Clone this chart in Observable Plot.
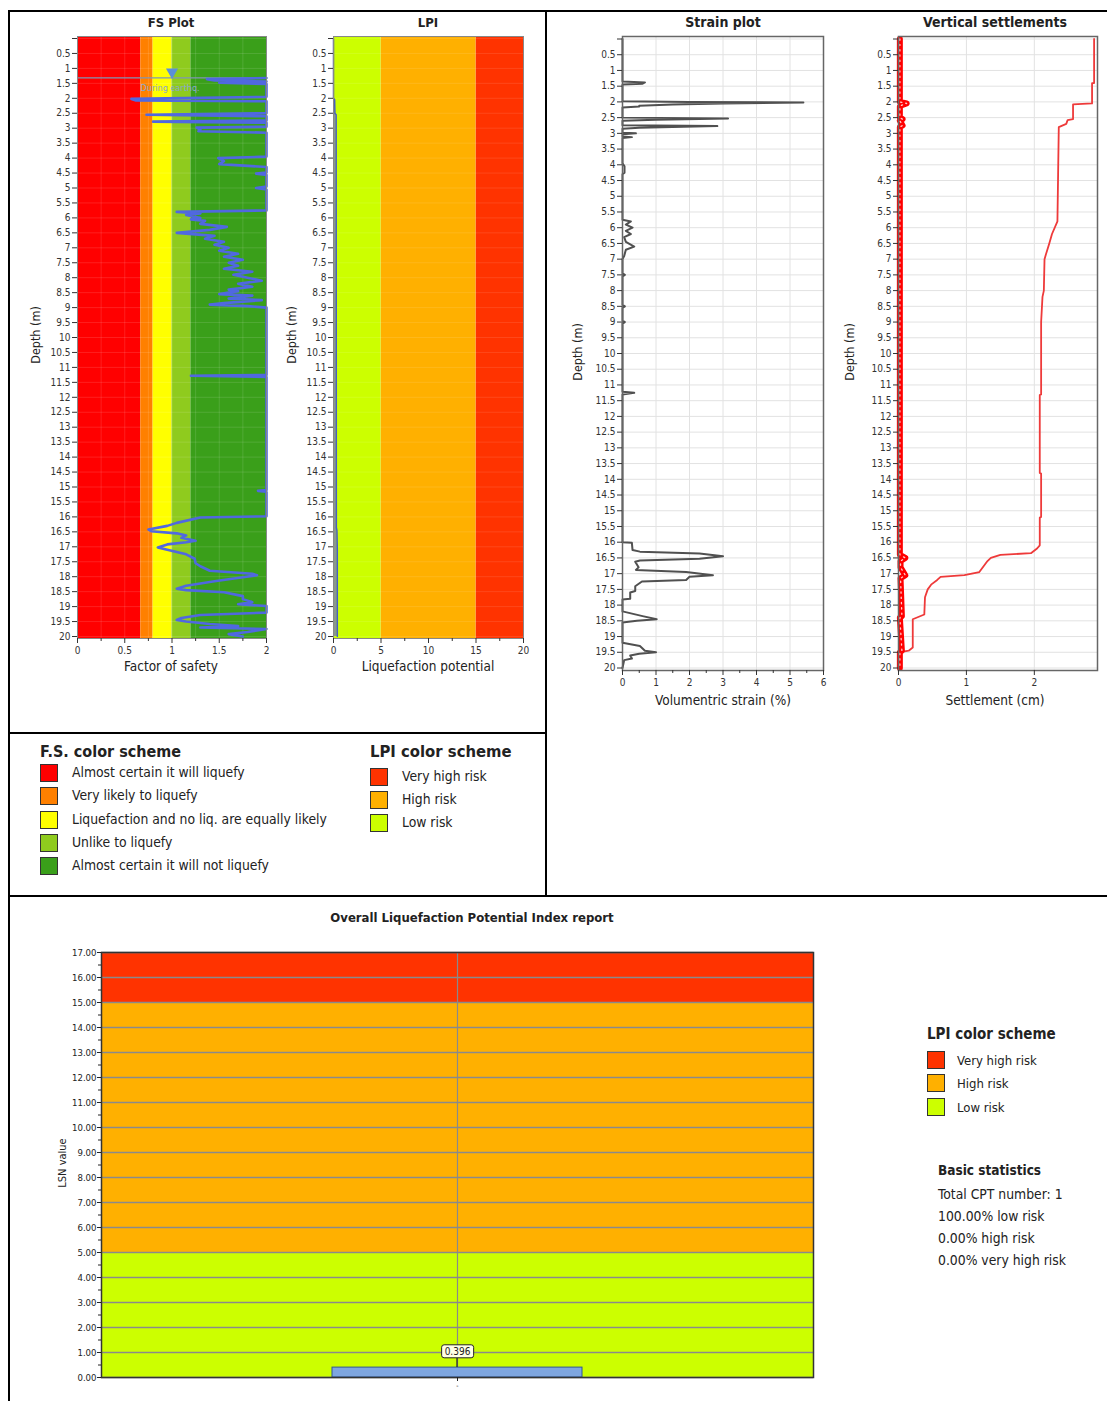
<!DOCTYPE html>
<html><head><meta charset="utf-8">
<script src="https://cdn.jsdelivr.net/npm/d3@7"></script>
<script src="https://cdn.jsdelivr.net/npm/@observablehq/plot@0.6"></script>
<style>
body{margin:0;background:#fff;}
#root{position:relative;width:1107px;height:1401px;overflow:hidden;background:#fff;font-family:'DejaVu Sans Condensed','DejaVu Sans',sans-serif;color:#222;}
.abs{position:absolute;white-space:nowrap;line-height:1;}
.bar{position:absolute;background:#000;}
.sw{position:absolute;width:16px;height:16px;border:1px solid #333;}
</style></head>
<body><div id="root"></div>
<script>
// ---------- data ----------
const depthTicks = [0,0.5,1,1.5,2,2.5,3,3.5,4,4.5,5,5.5,6,6.5,7,7.5,8,8.5,9,9.5,10,10.5,11,11.5,12,12.5,13,13.5,14,14.5,15,15.5,16,16.5,17,17.5,18,18.5,19,19.5,20];

// FS colour scheme
const fsNames = ["Almost certain it will liquefy","Very likely to liquefy","Liquefaction and no liq. are equally likely","Unlike to liquefy","Almost certain it will not liquefy"];
const fsColors = ["#FF0000","#FF8000","#FFFF00","#8FCB1E","#3A9F1A"];
const fsFrom = [0,0.67,0.8,1.0,1.2];
const fsTo = [0.67,0.8,1.0,1.2,2.0];
const fsTicks = [0,0.5,1,1.5,2];
const fsMinor = [0.25,0.75,1.25,1.75];
const waterDepth = 1.32;
const waterLabel = "During earthq.";

const fsDepth = [1.32,1.36,1.40,1.44,1.48,1.52,1.95,2.02,2.07,2.10,2.50,2.55,2.60,2.74,2.78,2.82,2.95,2.98,3.05,3.10,3.15,3.95,4.00,4.10,4.20,4.30,4.48,4.52,4.56,4.95,5.00,5.05,5.75,5.80,5.85,5.90,6.00,6.05,6.10,6.20,6.30,6.40,6.50,6.55,6.60,6.70,6.80,6.90,7.00,7.10,7.20,7.30,7.40,7.50,7.60,7.70,7.80,7.90,8.00,8.10,8.20,8.30,8.40,8.45,8.55,8.60,8.70,8.75,8.85,8.90,8.95,9.00,11.25,11.28,11.32,15.10,15.13,15.16,15.98,16.02,16.20,16.30,16.42,16.48,16.55,16.62,16.70,16.80,16.85,16.92,17.02,17.10,17.25,17.40,17.55,17.65,17.80,17.90,17.95,18.02,18.15,18.30,18.40,18.45,18.52,18.65,18.75,18.85,18.92,18.98,19.20,19.28,19.38,19.45,19.50,19.58,19.65,19.70,19.75,19.85,19.92,20.00];
const fsValue = [2,1.37,1.45,2,1.50,2,2,0.57,0.62,2,2,0.73,2,2,0.80,2,2,1.26,1.30,1.28,2,2,1.49,1.55,1.50,2,2,1.89,2,2,1.89,2,2,1.05,1.30,1.15,1.30,1.20,1.35,1.30,1.58,1.40,1.05,1.25,1.45,1.35,1.55,1.45,1.60,1.50,1.70,1.55,1.75,1.60,1.70,1.55,1.85,1.65,1.80,1.95,1.70,1.85,1.60,1.70,1.50,1.85,1.60,1.95,1.55,1.40,1.80,2,2,1.20,2,2,1.91,2,2,1.30,1.05,0.95,0.75,0.78,1.05,1.15,1.10,1.25,1.15,0.95,0.85,0.95,1.15,1.24,1.25,1.30,1.40,1.85,1.90,1.75,1.45,1.15,1.05,1.15,1.55,1.75,1.75,1.85,1.70,2,2,1.30,1.10,1.05,1.15,1.40,1.70,1.30,2,1.80,1.60,1.75];

// LPI colour scheme
const lpiNames = ["Very high risk","High risk","Low risk"];
const lpiColors = ["#FF3300","#FFB000","#CCFF00"];
const lpiFrom = [15,5,0];
const lpiTo = [20,15,5];
const lpiTicks = [0,5,10,15,20];
const lpiMinor = [2.5,7.5,12.5,17.5];
const lpiDepth = [0,2.0,2.05,2.5,2.55,16.35,16.45,17.1,20];
const lpiValue = [0,0,0.12,0.15,0.28,0.30,0.36,0.40,0.40];

// Strain
const strainTicks = [0,1,2,3,4,5,6];
const strainMinor = [0.5,1.5,2.5,3.5,4.5,5.5];
const strainDepth = [0,1.35,1.38,1.42,1.45,1.98,2.00,2.02,2.05,2.08,2.12,2.15,2.18,2.50,2.53,2.57,2.60,2.74,2.77,2.82,2.85,2.98,3.00,3.03,3.10,3.12,3.15,3.95,4.05,4.25,4.30,5.75,5.80,5.90,6.00,6.10,6.20,6.30,6.45,6.60,6.70,6.90,7.00,7.45,7.50,7.55,8.45,8.50,8.55,8.95,9.00,9.05,11.22,11.25,11.30,16.00,16.02,16.25,16.30,16.36,16.45,16.53,16.58,16.62,16.80,16.88,16.95,17.05,17.10,17.20,17.25,17.40,17.55,17.60,17.80,17.82,18.20,18.35,18.45,18.50,18.55,19.20,19.30,19.45,19.50,19.55,19.60,19.70,19.75,20.00];
const strainValue = [0,0,0.67,0.6,0,0,2.0,5.4,3.0,1.5,0.5,0.5,0,0,3.15,1.0,0,0,2.83,0.5,0,0,0.4,0,0,0.28,0,0,0.06,0.06,0,0,0.25,0.1,0.3,0.1,0.25,0.05,0.1,0.35,0.1,0.05,0,0,0.07,0,0,0.07,0,0,0.07,0,0,0.35,0,0,0.28,0.3,0.52,2.3,3.0,2.3,0.52,0.38,0.48,0.40,1.9,2.7,2.0,1.9,0.58,0.38,0.38,0.23,0.23,0,0,0.6,1.02,0.43,0,0,0.52,0.67,1.0,0.5,0.23,0.28,0.05,0];

// Settlement
const settleTicks = [0,1,2];
const settleMax = 2.93;
const settleDepth = [0,1.40,1.40,2.05,2.08,2.55,2.58,2.70,2.80,4.30,5.80,6.20,6.50,6.85,7.00,8.00,8.20,9.00,11.30,11.32,13.80,13.82,15.20,15.22,16.10,16.20,16.35,16.40,16.50,16.60,16.95,17.05,17.10,17.20,17.35,17.50,17.75,18.30,18.45,19.35,19.45,19.50,20.00];
const settleValue = [2.88,2.88,2.85,2.85,2.57,2.57,2.49,2.47,2.36,2.35,2.34,2.26,2.22,2.17,2.15,2.14,2.12,2.10,2.10,2.08,2.08,2.10,2.10,2.08,2.08,2.04,1.95,1.50,1.36,1.31,1.19,0.97,0.62,0.57,0.48,0.43,0.39,0.38,0.21,0.21,0.15,0.01,0];
const layerDepth = [0,2.0,2.05,2.1,2.15,2.5,2.55,2.6,2.75,2.8,16.4,16.5,16.6,16.8,17.05,17.15,18.35,18.4,19.45,19.5,20];
const layerValue = [0.02,0.02,0.12,0.05,0.02,0.02,0.06,0.02,0.06,0.02,0.02,0.1,0.03,0.03,0.1,0.03,0.05,0.02,0.05,0.02,0.02];

// Overall LSN report
const lsnCategories = ["-"];
const lsnValues = [0.396];
const lsnTicks = [0,1,2,3,4,5,6,7,8,9,10,11,12,13,14,15,16,17];
const lsnMinor = [0.5,1.5,2.5,3.5,4.5,5.5,6.5,7.5,8.5,9.5,10.5,11.5,12.5,13.5,14.5,15.5,16.5];
const lsnFrom = [15,5,0];
const lsnTo = [17,15,5];
const statsLines = ["Total CPT number: 1","100.00% low risk","0.00% high risk","0.00% very high risk"];

// ---------- tables ----------
const zip = (a,b,ka,kb) => a.map((d,i)=>({[ka]:d,[kb]:b[i]}));
const fsBands = fsFrom.map((d,i)=>({from:d,to:fsTo[i],color:fsColors[i]}));
const lpiBands = lpiFrom.map((d,i)=>({from:d,to:lpiTo[i],color:lpiColors[i]}));
const lsnBands = lsnFrom.map((d,i)=>({from:d,to:lsnTo[i],color:lpiColors[i]}));
const fsData = zip(fsDepth,fsValue,"depth","v");
const lpiData = zip(lpiDepth,lpiValue,"depth","v");
const strainData = zip(strainDepth,strainValue,"depth","v");
const settleData = zip(settleDepth,settleValue,"depth","v");
const layerData = zip(layerDepth,layerValue,"depth","v");
const lsnData = lsnCategories.map((c,i)=>({cat:c,v:lsnValues[i]}));

const FF = "'DejaVu Sans Condensed','DejaVu Sans',sans-serif";
const root = document.getElementById("root");
const baseStyle = {fontFamily: FF, fontSize: "10px", color: "#333", background: "transparent", overflow: "visible"};
const depthFmt = d => d === 0 ? "" : String(d);

function place(el, left, top){ el.style.position="absolute"; el.style.left=left+"px"; el.style.top=top+"px"; root.appendChild(el); return el; }
function txt(s, x, y, o={}){
  const d = document.createElement("div"); d.className="abs"; d.textContent=s;
  d.style.left=x+"px"; d.style.top=y+"px";
  d.style.fontSize=(o.size||12)+"px"; if(o.bold) d.style.fontWeight="bold";
  if(o.color) d.style.color=o.color;
  let tr = o.anchor==="start" ? "translate(0,-50%)" : "translate(-50%,-50%)";
  if(o.rotate) tr += " rotate(-90deg)";
  d.style.transform=tr; root.appendChild(d); return d;
}
function line(x,y,w,h){ const d=document.createElement("div"); d.className="bar"; Object.assign(d.style,{left:x+"px",top:y+"px",width:w+"px",height:h+"px"}); root.appendChild(d); }
function swatch(x,y,c){ const d=document.createElement("div"); d.className="sw"; Object.assign(d.style,{left:x+"px",top:y+"px",background:c}); root.appendChild(d); }

// ---------- FS plot ----------
place(Plot.plot({
  width: 280, height: 680, marginLeft: 77, marginRight: 14, marginTop: 36, marginBottom: 42,
  insetTop: 2, insetBottom: 2,
  x: {domain: [0,2], label: null}, y: {domain: [0,20], reverse: true, label: null}, color: {type: "identity"},
  style: baseStyle,
  marks: [
    Plot.rect(fsBands, {x1: "from", x2: "to", fill: "color"}),
    Plot.ruleY(depthTicks, {stroke: "#fff", strokeOpacity: 0.12}),
    Plot.ruleX(fsMinor.concat(fsTicks), {stroke: "#fff", strokeOpacity: 0.12}),
    Plot.ruleY([waterDepth], {stroke: "#8096b4", strokeWidth: 1.2}),
    Plot.line(fsData, {x: "v", y: "depth", stroke: "#5068E0", strokeWidth: 2.6}),
    Plot.dot([{v:1, depth: waterDepth}], {x: "v", y: "depth", symbol: "triangle", r: 4.5, rotate: 180, fill: "#5A8FD8", dy: -6}),
    Plot.text([{v:0.98, depth: waterDepth, t: waterLabel}], {x: "v", y: "depth", text: "t", dy: 10, fill: "#8aa6cc", fontSize: 9}),
    Plot.frame({stroke: "#888"}),
    Plot.axisY({ticks: depthTicks, tickFormat: depthFmt, tickSize: 5, tickPadding: 2, label: null}),
    Plot.axisX({ticks: fsTicks, tickFormat: d => String(d), tickSize: 5, tickPadding: 3, label: null}),
    Plot.axisX({ticks: fsMinor, tickFormat: () => "", tickSize: 3, label: null})
  ]
}), 0, 0);

// ---------- LPI plot ----------
place(Plot.plot({
  width: 260, height: 680, marginLeft: 53, marginRight: 17, marginTop: 36, marginBottom: 42,
  insetTop: 2, insetBottom: 2,
  x: {domain: [0,20], label: null}, y: {domain: [0,20], reverse: true, label: null}, color: {type: "identity"},
  style: baseStyle,
  marks: [
    Plot.rect(lpiBands, {x1: "from", x2: "to", fill: "color"}),
    Plot.ruleY(depthTicks, {stroke: "#fff", strokeOpacity: 0.1}),
    Plot.areaX(lpiData, {x: "v", y: "depth", fill: "#8a9a8a"}),
    Plot.line(lpiData, {x: "v", y: "depth", stroke: "#4A5FC1", strokeWidth: 1.5}),
    Plot.frame({stroke: "#888"}),
    Plot.axisY({ticks: depthTicks, tickFormat: depthFmt, tickSize: 5, tickPadding: 2, label: null}),
    Plot.axisX({ticks: lpiTicks, tickFormat: d => String(d), tickSize: 5, tickPadding: 3, label: null}),
    Plot.axisX({ticks: lpiMinor, tickFormat: () => "", tickSize: 3, label: null})
  ]
}), 280, 0);

// ---------- Strain plot ----------
place(Plot.plot({
  width: 290, height: 720, marginLeft: 74, marginRight: 15, marginTop: 36, marginBottom: 50,
  insetTop: 2.5, insetBottom: 2.5,
  x: {domain: [0,6], label: null}, y: {domain: [0,20], reverse: true, label: null},
  style: baseStyle,
  marks: [
    Plot.ruleY(depthTicks, {stroke: "#e2e2e2"}),
    Plot.ruleX(strainTicks, {stroke: "#e2e2e2"}),
    Plot.line(strainData, {x: "v", y: "depth", stroke: "#505050", strokeWidth: 2}),
    Plot.frame({stroke: "#666", strokeWidth: 1.5}),
    Plot.axisY({ticks: depthTicks, tickFormat: depthFmt, tickSize: 5, tickPadding: 2, label: null}),
    Plot.axisX({ticks: strainTicks, tickFormat: d => String(d), tickSize: 5, tickPadding: 3, label: null}),
    Plot.axisX({ticks: strainMinor, tickFormat: () => "", tickSize: 3, label: null})
  ]
}), 548, 0);

// ---------- Settlement plot ----------
place(Plot.plot({
  width: 269, height: 720, marginLeft: 60, marginRight: 10, marginTop: 36, marginBottom: 50,
  insetTop: 2.5, insetBottom: 2.5,
  x: {domain: [0, settleMax], label: null}, y: {domain: [0,20], reverse: true, label: null},
  style: baseStyle,
  marks: [
    Plot.ruleY(depthTicks, {stroke: "#e2e2e2"}),
    Plot.ruleX(settleTicks, {stroke: "#e2e2e2"}),
    Plot.line(settleData, {x: "v", y: "depth", stroke: "#EE3A3A", strokeWidth: 1.8}),
    Plot.line(layerData, {x: "v", y: "depth", stroke: "#FF0000", strokeWidth: 6}),
    Plot.line(layerData, {x: "v", y: "depth", stroke: "#fff", strokeWidth: 1.3, strokeDasharray: "1.3,4", strokeOpacity: 0.8}),
    Plot.frame({stroke: "#666", strokeWidth: 1.5}),
    Plot.axisY({ticks: depthTicks, tickFormat: depthFmt, tickSize: 5, tickPadding: 2, label: null}),
    Plot.axisX({ticks: settleTicks, tickFormat: d => String(d), tickSize: 5, tickPadding: 3, label: null})
  ]
}), 838, 0);

// ---------- Overall LSN report ----------
const lsnFmt = d3.format(".3f");
const lsn = place(Plot.plot({
  width: 820, height: 470, marginLeft: 81, marginRight: 27, marginTop: 22, marginBottom: 23,
  x: {domain: lsnCategories, padding: 0.48, label: null}, y: {domain: [0,17], label: null}, color: {type: "identity"},
  style: Object.assign({}, baseStyle, {fontSize: "9.5px", color: "#222"}),
  marks: [
    Plot.rect(lsnBands, {y1: "from", y2: "to", fill: "color"}),
    Plot.ruleY(lsnTicks, {stroke: "#8a8a8a", strokeWidth: 1.6}),
    Plot.ruleX(lsnCategories, {x: d => d, stroke: "#8a8a8a", strokeWidth: 1.2}),
    Plot.barY(lsnData, {x: "cat", y: "v", fill: "#7EA6E0", stroke: "#2F5597", strokeWidth: 1}),
    Plot.text(lsnData, {x: "cat", y: "v", text: d => lsnFmt(d.v), dy: -16, fill: "#222", fontSize: 10}),
    Plot.frame({stroke: "#333", strokeWidth: 1.5}),
    Plot.axisY({ticks: lsnTicks, tickFormat: d => d.toFixed(2), tickSize: 4, tickPadding: 1, label: null}),
    Plot.axisY({ticks: lsnMinor, tickFormat: () => "", tickSize: 3, label: null}),
    Plot.axisX({tickSize: 4, tickPadding: 2, fontSize: 7, label: null})
  ]
}), 20, 930);

// label box for the bar value
(function(){
  const s = lsn;
  const texts = Array.from(s.querySelectorAll("text")).filter(t => t.textContent === lsnFmt(lsnValues[0]));
  if (!texts.length) return;
  const t = texts[0];
  const sb = s.getBoundingClientRect(), tb = t.getBoundingClientRect();
  let g = t; while (g.parentNode && g.parentNode !== s) g = g.parentNode;
  const ns = "http://www.w3.org/2000/svg";
  const r = document.createElementNS(ns, "rect");
  const x = tb.left - sb.left - 3, y = tb.top - sb.top - 1, w = tb.width + 6, h = tb.height + 2;
  r.setAttribute("x", x); r.setAttribute("y", y); r.setAttribute("width", w); r.setAttribute("height", h);
  r.setAttribute("rx", 2.5); r.setAttribute("fill", "#FFFFE6"); r.setAttribute("stroke", "#222"); r.setAttribute("stroke-width", 1);
  const ys = lsn.scale("y"), xs = lsn.scale("x");
  const cx = xs.apply(lsnCategories[0]) + xs.bandwidth / 2;
  const l = document.createElementNS(ns, "line");
  l.setAttribute("x1", cx); l.setAttribute("x2", cx); l.setAttribute("y1", y + h); l.setAttribute("y2", ys.apply(lsnValues[0]));
  l.setAttribute("stroke", "#222"); l.setAttribute("stroke-width", 1.2);
  s.insertBefore(l, g); s.insertBefore(r, g);
})();

// ---------- frame lines ----------
line(8,10,1099,2); line(8,10,2,1391); line(545,10,2,887); line(8,732,539,2); line(8,895,1099,2);

// ---------- titles and axis labels ----------
txt("FS Plot", 171, 22, {bold:true, size:13});
txt("LPI", 428, 22, {bold:true, size:13});
txt("Strain plot", 723, 22, {bold:true, size:14});
txt("Vertical settlements", 995, 22, {bold:true, size:14});
txt("Factor of safety", 171, 667, {size:13.5});
txt("Liquefaction potential", 428, 667, {size:13.5});
txt("Volumentric strain (%)", 723, 701, {size:13.5});
txt("Settlement (cm)", 995, 701, {size:13.5});
txt("Depth (m)", 36, 335, {size:12.5, rotate:true});
txt("Depth (m)", 292, 335, {size:12.5, rotate:true});
txt("Depth (m)", 578, 352, {size:12.5, rotate:true});
txt("Depth (m)", 850, 352, {size:12.5, rotate:true});
txt("Overall Liquefaction Potential Index report", 472, 917, {bold:true, size:13});
txt("LSN value", 62, 1163, {size:11, rotate:true});

// ---------- legends ----------
txt("F.S. color scheme", 40, 752, {bold:true, size:16, anchor:"start"});
fsNames.forEach((n,i)=>{ const cy = 773 + i*23.3; swatch(40, cy-9, fsColors[i]); txt(n, 72, cy, {size:13.8, anchor:"start"}); });
txt("LPI color scheme", 370, 752, {bold:true, size:16.5, anchor:"start"});
lpiNames.forEach((n,i)=>{ const cy = 777 + i*23.2; swatch(370, cy-9, lpiColors[i]); txt(n, 402, cy, {size:13.8, anchor:"start"}); });
txt("LPI color scheme", 927, 1034, {bold:true, size:15, anchor:"start"});
lpiNames.forEach((n,i)=>{ const cy = 1060 + i*23.3; swatch(927, cy-9, lpiColors[i]); txt(n, 957, cy, {size:13, anchor:"start"}); });
txt("Basic statistics", 938, 1171, {bold:true, size:13.5, anchor:"start"});
statsLines.forEach((s,i)=> txt(s, 938, 1195 + i*22, {size:13.8, anchor:"start"}));
</script></body></html>
